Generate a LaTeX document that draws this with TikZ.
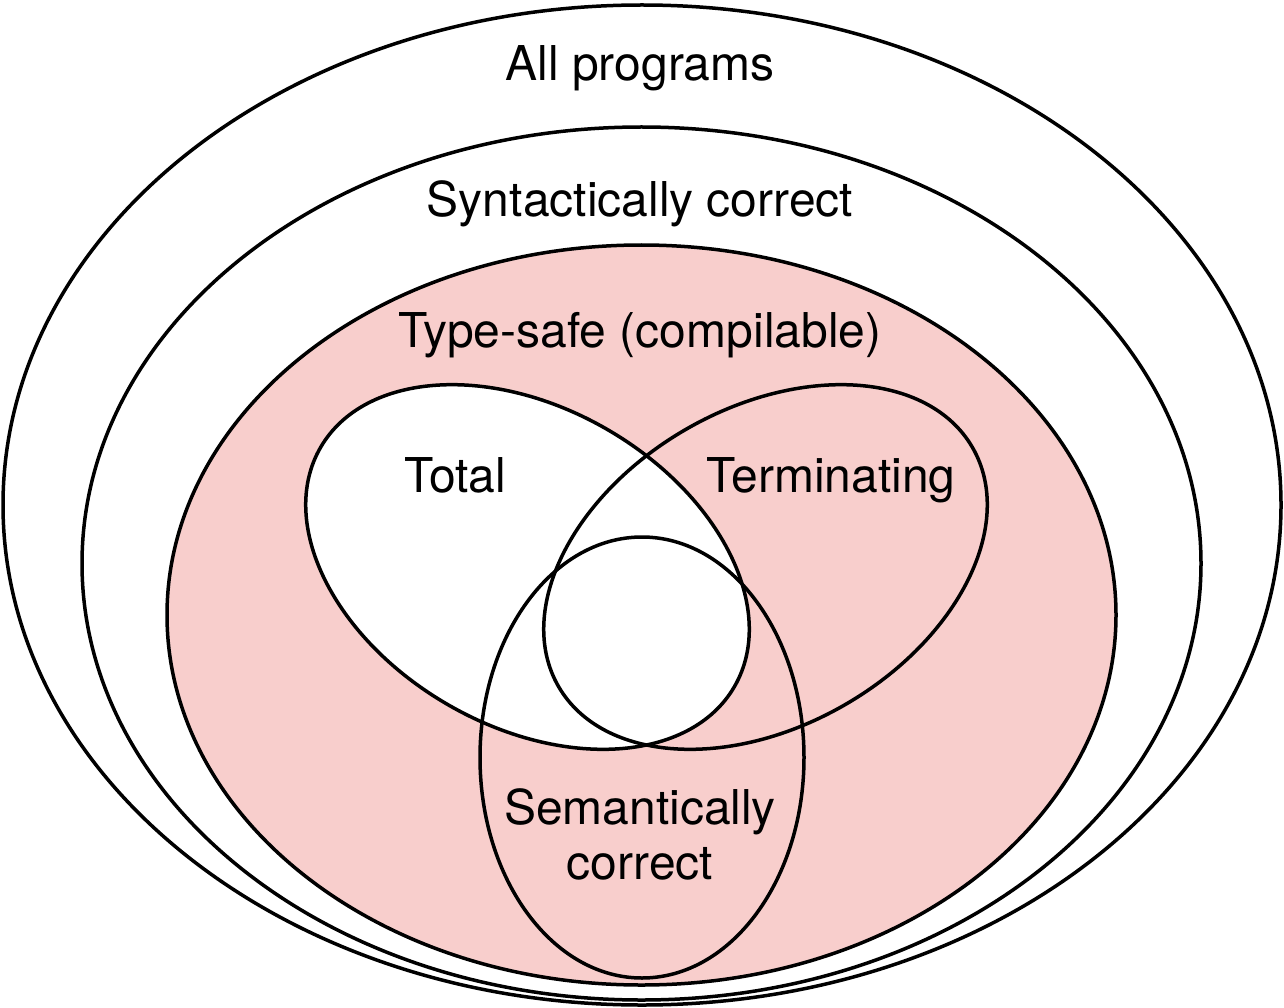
\documentclass[tikz,border=0pt]{standalone}
\usepackage{fontspec}
\setmainfont{TeX Gyre Heros}
\definecolor{pinkfill}{HTML}{F8CECC}
\begin{document}
\begin{tikzpicture}[x=1pt,y=-1pt,
  setline/.style={draw=black,line width=3.5pt},
  lbl/.style={font=\fontsize{48}{55}\selectfont,anchor=base,inner sep=0pt,align=center}]
\useasboundingbox (0,0) rectangle (1284,1008);
% All programs
\draw[setline] (642,505) ellipse [x radius=639, y radius=500];
% Syntactically correct
\draw[setline] (641.5,563.5) ellipse [x radius=559.5, y radius=436.5];
% Type-safe
\draw[setline,fill=pinkfill] (641.5,615) ellipse [x radius=474.5, y radius=370];
% Total
\draw[setline,fill=white,rotate around={-30:(527.5,567)}] (527.5,567) ellipse [x radius=239, y radius=159];
% Terminating
\draw[setline,rotate around={30:(765.5,567)}] (765.5,567) ellipse [x radius=239, y radius=159];
% Semantically correct
\draw[setline] (642,757.5) ellipse [x radius=162, y radius=220.5];
% labels
\node[lbl] (allp) at (640,81) {All programs};
\node[lbl] (synt) at (640,217) {Syntactically correct};
\node[lbl] (tsafe) at (640,347) {Type-safe (compilable)};
\node[lbl] (total) at (455,492) {Total};
\node[lbl] (term) at (831,492) {Terminating};
\node[lbl] (sem) at (640,824) {Semantically};
\node[lbl] (semb) at (640,879) {correct};
\end{tikzpicture}
\end{document}
